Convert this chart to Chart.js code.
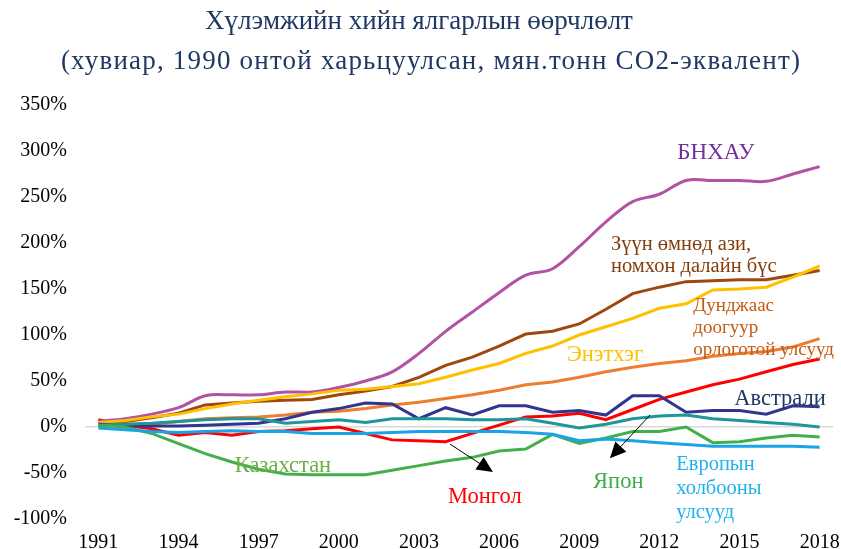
<!DOCTYPE html>
<html>
<head>
<meta charset="utf-8">
<script src="https://cdn.jsdelivr.net/npm/chart.js@4.4.0/dist/chart.umd.min.js"></script>
<style>
body { margin: 0; background: #fff; }
#wrap { width: 841px; height: 549px; }
</style>
</head>
<body>
<div id="wrap"><canvas id="myChart" width="841" height="549"></canvas></div>
<script>
var years = ['1991', '1992', '1993', '1994', '1995', '1996', '1997', '1998', '1999', '2000',
    '2001', '2002', '2003', '2004', '2005', '2006', '2007', '2008', '2009', '2010',
    '2011', '2012', '2013', '2014', '2015', '2016', '2017', '2018'];

// хувиар, 1990 онтой харьцуулсан
var china = [6, 9, 14, 21, 34, 35, 35, 38, 38, 43, 50, 60, 80, 104, 125, 146, 165, 172, 196, 223, 245, 253, 268, 268, 268, 267, 275, 283];
var seAsia = [3, 6, 10, 15, 24, 26, 28, 29, 30, 35, 39, 44, 54, 67, 76, 88, 101, 104, 112, 128, 145, 152, 158, 159, 160, 160, 165, 170];
var india = [5, 7, 11, 14, 20, 25, 29, 33, 36, 40, 41, 44, 47, 54, 62, 69, 80, 88, 100, 109, 118, 129, 134, 149, 150, 152, 163, 175];
var lowerMiddle = [3, 3, 3, 6, 9, 10, 11, 13, 16, 17, 20, 24, 27, 31, 35, 40, 46, 49, 54, 60, 65, 69, 72, 77, 80, 82, 87, 96];
var australia = [3, 2, 1, 1, 2, 3, 4, 9, 16, 20, 26, 25, 9, 21, 13, 23, 23, 16, 18, 13, 34, 34, 16, 18, 18, 14, 23, 22];
var mongolia = [8, 2, -2, -9, -6, -9, -5, -4, -2, 0, -7, -14, -15, -16, -7, 2, 11, 12, 15, 8, 19, 30, 38, 46, 52, 60, 68, 74];
var japan = [2, 3, 4, 6, 8, 9, 9, 4, 6, 8, 5, 9, 9, 9, 8, 8, 9, 4, -1, 3, 9, 12, 13, 9, 7, 5, 3, 0];
var kazakhstan = [2, 0, -7, -18, -29, -38, -46, -51, -52, -52, -52, -47, -42, -37, -33, -26, -24, -8, -18, -12, -5, -5, 0, -17, -16, -12, -9, -11];
var eu = [-1, -3, -5, -6, -5, -4, -5, -5, -7, -7, -7, -6, -5, -5, -5, -5, -6, -8, -15, -13, -15, -17, -19, -21, -21, -21, -21, -22];

var yTicks = [-100, -50, 0, 50, 100, 150, 200, 250, 300, 350];

var titleLines = ['Хүлэмжийн хийн ялгарлын өөрчлөлт', '(хувиар, 1990 онтой харьцуулсан, мян.тонн CO2-эквалент)'];

// шошго: [ангиллын индекс, утга, мөрүүд, өнгө, байрлал, үсгийн хэмжээ, мөр хоорондын зай]
var labels = [
    [23.12, 298, ['БНХАУ'], '#7030A0', 'center', 23, 0],
    [19.19, 198, ['Зүүн өмнөд ази,', 'номхон далайн бүс'], '#843C0C', 'left', 20.5, 22],
    [22.27, 131, ['Дунджаас', 'доогуур', 'орлоготой улсууд'], '#C55A11', 'left', 19, 22],
    [17.54, 78, ['Энэтхэг'], '#FFC000', 'left', 22.5, 0],
    [23.8, 30, ['Австрали'], '#203864', 'left', 22.5, 0],
    [5.11, -43, ['Казахстан'], '#70AD47', 'left', 22.5, 0],
    [13.09, -76, ['Монгол'], '#FF0000', 'left', 22.5, 0],
    [18.52, -60, ['Япон'], '#3AAF48', 'left', 22.5, 0],
    [21.63, -41, ['Европын', 'холбооны', 'улсууд'], '#1FB2EC', 'left', 20.5, 24]
];
var arrows = [
    [13.16, -18.5, 14.77, -49],
    [20.65, 13, 19.15, -34]
];

var serif = '"Liberation Serif", "Times New Roman", serif';

var notes = {
    id: 'notes',
    afterDraw: function (chart) {
        var c = chart.ctx;
        var xs = chart.scales.x, ys = chart.scales.y;
        c.save();
        c.textBaseline = 'middle';
        c.fillStyle = '#1F3864';
        c.textAlign = 'center';
        c.font = '27px ' + serif;
        c.fillText(titleLines[0], 419, 22);
        c.letterSpacing = '1.2px';
        c.fillText(titleLines[1], 431, 62);
        c.letterSpacing = '0px';

        labels.forEach(function (l) {
            var px = xs.getPixelForValue(l[0]);
            var py = ys.getPixelForValue(l[1]);
            c.font = l[5] + 'px ' + serif;
            c.fillStyle = l[3];
            c.textAlign = l[4];
            l[2].forEach(function (t, i) {
                c.fillText(t, px, py + i * l[6]);
            });
        });

        arrows.forEach(function (a) {
            var x1 = xs.getPixelForValue(a[0]), y1 = ys.getPixelForValue(a[1]);
            var x2 = xs.getPixelForValue(a[2]), y2 = ys.getPixelForValue(a[3]);
            var ang = Math.atan2(y2 - y1, x2 - x1);
            c.strokeStyle = '#000';
            c.lineWidth = 1;
            c.beginPath();
            c.moveTo(x1, y1);
            c.lineTo(x2 - 12 * Math.cos(ang), y2 - 12 * Math.sin(ang));
            c.stroke();
            c.fillStyle = '#000';
            c.beginPath();
            c.moveTo(x2, y2);
            c.lineTo(x2 - 16 * Math.cos(ang) + 7.5 * Math.sin(ang), y2 - 16 * Math.sin(ang) - 7.5 * Math.cos(ang));
            c.lineTo(x2 - 16 * Math.cos(ang) - 7.5 * Math.sin(ang), y2 - 16 * Math.sin(ang) + 7.5 * Math.cos(ang));
            c.closePath();
            c.fill();
        });
        c.restore();
    }
};

function line(label, data, color, tension) {
    return {
        label: label,
        data: data,
        borderColor: color,
        backgroundColor: color,
        borderWidth: 3,
        pointRadius: 0,
        tension: tension || 0,
        fill: false
    };
}

var ctx = document.getElementById('myChart').getContext('2d');
var myChart = new Chart(ctx, {
    type: 'line',
    data: {
        labels: years,
        datasets: [
            line('Европын холбооны улсууд', eu, '#1AA3E6'),
            line('Казахстан', kazakhstan, '#42B04A'),
            line('Япон', japan, '#1E969A'),
            line('Австрали', australia, '#313590'),
            line('Дунджаас доогуур орлоготой улсууд', lowerMiddle, '#ED7D31'),
            line('Энэтхэг', india, '#FFC000'),
            line('Зүүн өмнөд ази, номхон далайн бүс', seAsia, '#9E480E'),
            line('БНХАУ', china, '#B152A4', 0.35),
            line('Монгол', mongolia, '#FF0000')
        ]
    },
    options: {
        responsive: false,
        animation: false,
        layout: {
            padding: { left: 0, right: 8, top: 105, bottom: 0 }
        },
        scales: {
            x: {
                offset: true,
                border: { display: false },
                grid: { display: false, drawTicks: false },
                afterFit: function (s) {
                    s.height = 30;
                    s.paddingLeft = 0;
                    s.paddingRight = 0;
                },
                ticks: {
                    autoSkip: false,
                    maxRotation: 0,
                    padding: 12,
                    color: '#000',
                    font: { family: serif, size: 20 },
                    callback: function (v, i) { return i % 3 === 0 ? years[i] : ''; }
                }
            },
            y: {
                min: -100,
                max: 350,
                border: { display: false },
                afterFit: function (s) { s.width = 85; },
                afterBuildTicks: function (s) {
                    s.ticks = yTicks.map(function (v) { return { value: v }; });
                },
                grid: {
                    drawTicks: false,
                    lineWidth: 1.5,
                    color: function (c) { return c.tick && c.tick.value === 0 ? '#D9D9D9' : 'rgba(0,0,0,0)'; }
                },
                ticks: {
                    padding: 18,
                    color: '#000',
                    font: { family: serif, size: 20 },
                    callback: function (v) { return v + '%'; }
                }
            }
        },
        plugins: {
            legend: { display: false },
            title: { display: false },
            tooltip: { enabled: false }
        }
    },
    plugins: [notes]
});
</script>
</body>
</html>
